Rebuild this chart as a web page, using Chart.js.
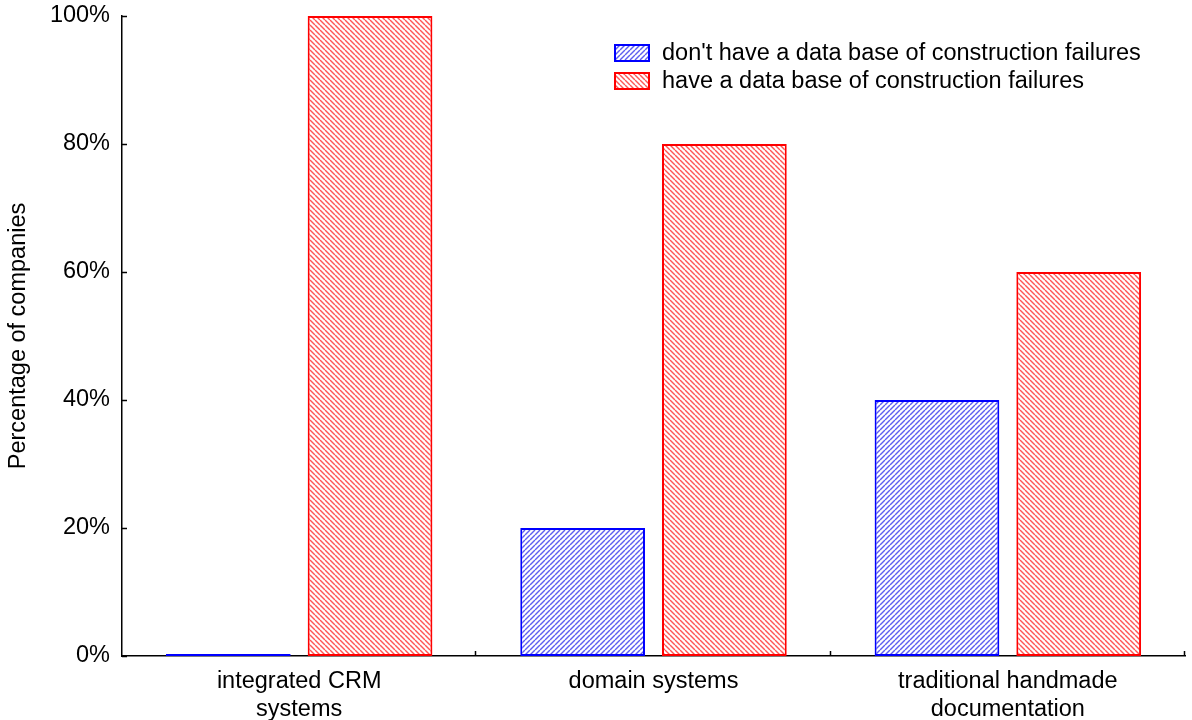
<!DOCTYPE html>
<html>
<head>
<meta charset="utf-8">
<script src="https://cdn.jsdelivr.net/npm/chart.js@4.4.0/dist/chart.umd.min.js"></script>
<style>
  html, body { margin: 0; padding: 0; background: #fff; }
  #wrap { width: 1192px; height: 720px; position: relative; }
</style>
</head>
<body>
<div id="wrap"><canvas id="chart"></canvas></div>
<script>
  // data
  const categories = [["integrated CRM", "systems"], "domain systems", ["traditional handmade", "documentation"]];
  const noDatabase = [0, 20, 40];
  const haveDatabase = [100, 80, 60];
  const seriesLabels = ["don't have a data base of construction failures", "have a data base of construction failures"];
  const yTicks = [0, 20, 40, 60, 80, 100];

  const FONT = "'Liberation Sans', Arial, sans-serif";
  const FS = 23.5;

  // hatch fill: blue "/" and red "\"
  function hatch(color, forward) {
    const s = 5;
    const c = document.createElement("canvas");
    c.width = s; c.height = s;
    const g = c.getContext("2d");
    g.fillStyle = "#fff";
    g.fillRect(0, 0, s, s);
    g.strokeStyle = color;
    g.lineWidth = 1.4;
    for (let k = -1; k <= 1; k++) {
      g.beginPath();
      if (forward) {
        g.moveTo(k * s, s);
        g.lineTo(k * s + s, 0);
      } else {
        g.moveTo(k * s, 0);
        g.lineTo(k * s + s, s);
      }
      g.stroke();
    }
    return g.createPattern(c, "repeat");
  }

  const blueFill = hatch("rgba(40,40,235,0.75)", true);
  const redFill = hatch("rgba(255,30,30,0.75)", false);

  // inward ticks + legend drawn on top
  const extras = {
    id: "extras",
    afterDraw(chart) {
      const ctx = chart.ctx;
      const x = chart.scales.x, y = chart.scales.y;
      const area = chart.chartArea;
      ctx.save();
      ctx.strokeStyle = "#000";
      ctx.lineWidth = 1.5;
      yTicks.forEach(v => {
        const py = Math.round(y.getPixelForValue(v)) + 0.5;
        ctx.beginPath();
        ctx.moveTo(area.left, py);
        ctx.lineTo(area.left + 5, py);
        ctx.stroke();
      });
      const half = (x.getPixelForValue(1) - x.getPixelForValue(0)) / 2;
      categories.forEach((c, i) => {
        const px = Math.round(x.getPixelForValue(i) + half) - 0.5;
        ctx.beginPath();
        ctx.moveTo(px, area.bottom);
        ctx.lineTo(px, area.bottom - 5);
        ctx.stroke();
      });

      // legend
      const fills = [blueFill, redFill];
      const edges = ["#0000ff", "#ff0000"];
      ctx.font = FS + "px " + FONT;
      ctx.textBaseline = "middle";
      seriesLabels.forEach((lab, i) => {
        const top = 44 + i * 28;
        ctx.fillStyle = fills[i];
        ctx.fillRect(614, top, 36, 18);
        ctx.strokeStyle = edges[i];
        ctx.lineWidth = 2;
        ctx.strokeRect(615, top + 1, 34, 16);
        ctx.fillStyle = "#000";
        ctx.fillText(lab, 662, top + 10);
      });
      ctx.restore();
    }
  };

  new Chart(document.getElementById("chart"), {
    type: "bar",
    data: {
      labels: categories,
      datasets: [
        {
          label: seriesLabels[0],
          data: noDatabase,
          backgroundColor: blueFill,
          borderColor: "#0000ff",
          borderWidth: 2,
          borderSkipped: false,
          minBarLength: 2
        },
        {
          label: seriesLabels[1],
          data: haveDatabase,
          backgroundColor: redFill,
          borderColor: "#ff0000",
          borderWidth: 2,
          borderSkipped: false
        }
      ]
    },
    options: {
      responsive: true,
      maintainAspectRatio: false,
      animation: false,
      categoryPercentage: 0.8,
      barPercentage: 0.88,
      layout: { padding: { top: 16, right: 7, left: 0, bottom: 0 } },
      plugins: {
        legend: { display: false },
        tooltip: { enabled: false }
      },
      scales: {
        x: {
          grid: { display: false, drawTicks: false },
          border: { color: "#000", width: 1.5 },
          ticks: {
            color: "#000",
            font: { family: FONT, size: FS, lineHeight: 1.2 },
            padding: 11,
            maxRotation: 0,
            autoSkip: false
          },
          afterFit(s) { s.height = 64; s.paddingLeft = 0; s.paddingRight = 0; }
        },
        y: {
          min: 0,
          max: 100,
          grid: { display: false, drawTicks: false },
          border: { color: "#000", width: 1.5 },
          ticks: {
            stepSize: 20,
            color: "#000",
            padding: 12,
            font: { family: FONT, size: FS },
            callback: v => v + "%"
          },
          title: {
            display: true,
            text: "Percentage of companies",
            color: "#000",
            font: { family: FONT, size: FS },
            padding: { top: 4, bottom: 8 }
          },
          afterFit(s) { s.width = 122; s.paddingTop = 0; s.paddingBottom = 0; }
        }
      }
    },
    plugins: [extras]
  });
</script>
</body>
</html>
